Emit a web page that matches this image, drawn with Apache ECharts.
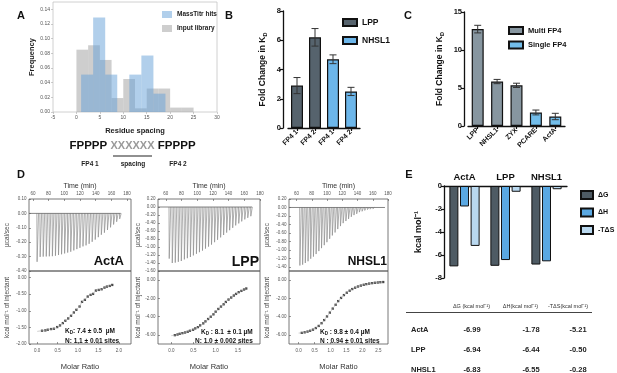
<!DOCTYPE html>
<html>
<head>
<meta charset="utf-8">
<script src="https://cdn.jsdelivr.net/npm/echarts@6/dist/echarts.min.js"></script>
<style>html,body{margin:0;padding:0;background:#fff}#chart{width:617px;height:373px}</style>
</head>
<body>
<div id="chart"></div>
<script>
const FONT = '"Liberation Sans", Arial, Helvetica, sans-serif';

// A - histogram of residue spacing
const hitsBinStart = [1, 3.57, 6.14, 8.71, 11.29, 13.86, 16.43];
const hitsBinEnd   = [3.57, 6.14, 8.71, 11.29, 13.86, 16.43, 19];
const hitsFreq     = [0.051, 0.129, 0.051, 0, 0.051, 0.077, 0.025];
const libBinStart  = [0, 2.5, 5, 7.5, 10, 12.5, 15, 17.5, 20, 22.5];
const libBinEnd    = [2.5, 5, 7.5, 10, 12.5, 15, 17.5, 20, 22.5, 25];
const libFreq      = [0.085, 0.091, 0.071, 0.019, 0.045, 0.005, 0.032, 0.032, 0.006, 0.006];
const aYTicks = [0, 0.02, 0.04, 0.06, 0.08, 0.10, 0.12, 0.14];

// B - fold change, FP4 sites
const bCats  = ['FP4 1', 'FP4 2', 'FP4 1', 'FP4 2'];
const bLpp   = [2.9, 6.2, null, null];
const bNhsl1 = [null, null, 4.7, 2.5];
const bErr   = [0.55, 0.6, 0.3, 0.28];

// C - fold change, multi vs single
const cCats   = ['LPP', 'NHSL1', 'ZYX', 'PCARE', 'ActA'];
const cMulti  = [12.75, 5.85, 5.35, null, null];
const cSingle = [null, null, null, 1.78, 1.25];
const cErr    = [0.5, 0.28, 0.28, 0.32, 0.42];

// D - ITC thermograms (injection time, peak ucal/sec)
const actaTimes = [65.0, 68.9, 72.8, 76.7, 80.6, 84.5, 88.4, 92.3, 96.2, 100.1, 104.0, 107.9, 111.8, 115.7,
  119.6, 123.5, 127.4, 131.3, 135.2, 139.1, 143.0, 146.9, 150.8, 154.7, 158.6, 162.5, 166.4, 170.3];
const actaPeaks = [-0.336, -0.302, -0.300, -0.299, -0.298, -0.297, -0.294, -0.289, -0.284, -0.278, -0.272, -0.266, -0.257, -0.248,
  -0.239, -0.229, -0.222, -0.211, -0.197, -0.182, -0.165, -0.148, -0.134, -0.115, -0.097, -0.077, -0.058, -0.038];
const lppTimes = [64.0, 67.9, 71.7, 75.6, 79.4, 83.3, 87.1, 91.0, 94.8, 98.7, 102.5, 106.4, 110.2, 114.1,
  117.9, 121.8, 125.6, 129.5, 133.3, 137.2, 141.0, 144.9, 148.7, 152.6, 156.4, 160.3, 164.1, 168.0];
const lppPeaks = [-1.29, -1.40, -1.39, -1.37, -1.35, -1.31, -1.28, -1.25, -1.21, -1.17, -1.13, -1.09, -1.04, -0.99,
  -0.94, -0.88, -0.82, -0.76, -0.70, -0.64, -0.58, -0.52, -0.46, -0.41, -0.36, -0.31, -0.27, -0.23];
const nhslTimes = [64.0, 67.6, 71.1, 74.7, 78.2, 81.8, 85.3, 88.9, 92.4, 96.0, 99.5, 103.1, 106.6, 110.2,
  113.7, 117.3, 120.8, 124.4, 127.9, 131.5, 135.0, 138.6, 142.1, 145.7, 149.2, 152.8, 156.3, 159.9];
const nhslPeaks = [-1.37, -1.35, -1.31, -1.27, -1.21, -1.16, -1.10, -1.03, -0.96, -0.89, -0.82, -0.74, -0.66, -0.59,
  -0.51, -0.44, -0.37, -0.32, -0.27, -0.22, -0.18, -0.15, -0.11, -0.09, -0.07, -0.05, -0.04, -0.03];
const actaBase = [[55, 0], [172, 0]];
const lppBase  = [[50, 0], [170, 0]];
const nhslBase = [[50, 0], [176, 0]];

// D - binding isotherms (molar ratio, kcal/mol of injectant)
const actaDots = [[0.12,-1.60],[0.20,-1.59],[0.26,-1.57],[0.34,-1.55],[0.41,-1.54],[0.49,-1.49],[0.56,-1.44],
  [0.63,-1.37],[0.69,-1.30],[0.76,-1.23],[0.83,-1.15],[0.90,-1.05],[0.96,-0.97],[1.04,-0.87],[1.10,-0.73],
  [1.17,-0.67],[1.24,-0.57],[1.31,-0.52],[1.37,-0.49],[1.44,-0.39],[1.51,-0.37],[1.58,-0.35],[1.65,-0.30],
  [1.71,-0.27],[1.78,-0.25],[1.84,-0.22]];
const lppDots = [[0.08,-6.03],[0.14,-5.96],[0.19,-5.88],[0.25,-5.81],[0.31,-5.74],[0.37,-5.66],[0.42,-5.55],
  [0.49,-5.44],[0.54,-5.29],[0.60,-5.15],[0.65,-4.96],[0.72,-4.74],[0.77,-4.52],[0.83,-4.26],[0.89,-4.01],
  [0.95,-3.75],[1.00,-3.46],[1.06,-3.16],[1.12,-2.90],[1.18,-2.65],[1.23,-2.39],[1.29,-2.13],[1.35,-1.91],
  [1.41,-1.69],[1.46,-1.51],[1.52,-1.32],[1.58,-1.18],[1.64,-1.03],[1.69,-0.92]];
const nhslDots = [[0.10,-5.78],[0.19,-5.72],[0.28,-5.64],[0.36,-5.55],[0.45,-5.43],[0.54,-5.25],[0.63,-5.02],
  [0.72,-4.72],[0.80,-4.38],[0.89,-3.98],[0.98,-3.56],[1.07,-3.12],[1.16,-2.70],[1.24,-2.30],[1.33,-1.95],
  [1.42,-1.64],[1.51,-1.38],[1.60,-1.16],[1.68,-0.98],[1.77,-0.83],[1.86,-0.70],[1.95,-0.60],[2.04,-0.51],
  [2.12,-0.44],[2.21,-0.38],[2.30,-0.33],[2.39,-0.29],[2.48,-0.26],[2.56,-0.23],[2.65,-0.21]];
const actaFitStart = [0.0, -1.62];
const lppFitStart  = [0.0, -6.08];
const nhslFitStart = [0.0, -5.80];

// D - tick values
const actaTimeTicks = [60, 80, 100, 120, 140, 160, 180];
const timeTicks     = [60, 80, 100, 120, 140, 160, 180];
const actaUpTicks = [0.1, 0, -0.1, -0.2, -0.3, -0.4];
const lppUpTicks  = [0.2, 0, -0.2, -0.4, -0.6, -0.8, -1.0, -1.2, -1.4, -1.6];
const nhslUpTicks = [0.2, 0, -0.2, -0.4, -0.6, -0.8, -1.0, -1.2, -1.4];
const actaLowTicks = [0, -0.5, -1.0, -1.5, -2.0];
const kcalLowTicks = [0, -2, -4, -6];
const actaMolTicks = [0, 0.5, 1.0, 1.5, 2.0];
const lppMolTicks  = [0, 0.5, 1.0, 1.5];
const nhslMolTicks = [0, 0.5, 1.0, 1.5, 2.0, 2.5];

// E - thermodynamics
const eCats = ['ActA', 'LPP', 'NHSL1'];
const eDG  = [-6.99, -6.94, -6.83];
const eDH  = [-1.78, -6.44, -6.55];
const eTDS = [-5.21, -0.50, -0.28];

const chart = echarts.init(document.getElementById('chart'), null, {renderer: 'canvas'});

function binItem(color) {
  return function (params, api) {
    const p0 = api.coord([api.value(0), api.value(2)]);
    const p1 = api.coord([api.value(1), 0]);
    return {type: 'rect', shape: {x: p0[0], y: p0[1], width: p1[0] - p0[0], height: p1[1] - p0[1]},
      style: {fill: color}};
  };
}

function errItem(params, api) {
  const i = api.value(0), v = api.value(1), e = api.value(2);
  const hi = api.coord([i, v + e]), lo = api.coord([i, v - e]);
  const w = 3.5, st = {stroke: '#333', lineWidth: 1};
  return {type: 'group', children: [
    {type: 'line', shape: {x1: hi[0], y1: hi[1], x2: lo[0], y2: lo[1]}, style: st},
    {type: 'line', shape: {x1: hi[0] - w, y1: hi[1], x2: hi[0] + w, y2: hi[1]}, style: st},
    {type: 'line', shape: {x1: lo[0] - w, y1: lo[1], x2: lo[0] + w, y2: lo[1]}, style: st}
  ]};
}

function spikeItem(params, api) {
  const t = api.value(0), p = api.value(1);
  const a = api.coord([t, 0]), b = api.coord([t + 0.3, p]), c = api.coord([t + 2.2, 0]);
  return {type: 'polyline', shape: {points: [a, b, c]}, style: {stroke: '#8c8c8c', lineWidth: 0.7, fill: null}};
}

const lblBold = (size) => ({fontSize: size, fontWeight: 'bold', color: '#111'});
const subName = (text, size) => ({
  name: '{a|' + text + '}{b|D}',
  nameTextStyle: {rich: {
    a: {fontSize: size, fontWeight: 'bold', color: '#111', lineHeight: size + 3},
    b: {fontSize: size * 0.65, fontWeight: 'bold', color: '#111', verticalAlign: 'bottom', lineHeight: size * 0.7}
  }}
});

function frameGrid(left, top, width, height) {
  return {left, top, width, height, show: true, borderColor: '#555', borderWidth: 0.8, backgroundColor: 'transparent'};
}

const noLine = {show: false, onZero: false};
const itcTick = (ticks) => ({inside: true, length: 2, lineStyle: {color: '#555', width: 0.6}, customValues: ticks});

function timeAxis(g, min, max, ticks) {
  return {type: 'value', gridIndex: g, position: 'top', min, max,
    name: 'Time (min)', nameLocation: 'middle', nameGap: 9.5,
    nameTextStyle: {fontSize: 7, color: '#333'},
    axisLine: noLine, axisTick: itcTick(ticks),
    axisLabel: {fontSize: 4.5, color: '#555', margin: 2.5, customValues: ticks},
    splitLine: {show: false}};
}
function molAxis(g, min, max, ticks) {
  return {type: 'value', gridIndex: g, min, max,
    name: 'Molar Ratio', nameLocation: 'middle', nameGap: 19,
    nameTextStyle: {fontSize: 7.5, color: '#333'},
    axisLine: noLine, axisTick: itcTick(ticks),
    axisLabel: {fontSize: 4.5, color: '#555', margin: 4, customValues: ticks, formatter: v => v.toFixed(1)},
    splitLine: {show: false}};
}
function itcYAxis(g, min, max, ticks, name, gap) {
  return {type: 'value', gridIndex: g, min, max,
    name, nameLocation: 'middle', nameGap: gap,
    nameTextStyle: {fontSize: 6.5, color: '#444'},
    axisLine: noLine, axisTick: itcTick(ticks),
    axisLabel: {fontSize: 4.5, color: '#555', margin: 2.5, customValues: ticks, formatter: v => v.toFixed(2)},
    splitLine: {show: false}};
}

const bMean = bLpp.map((v, i) => v != null ? v : bNhsl1[i]);
const cMean = cMulti.map((v, i) => v != null ? v : cSingle[i]);

const blackAxis = {show: true, onZero: false, lineStyle: {color: '#111', width: 1.3}};
const blackTick = {show: true, length: 3, lineStyle: {color: '#111', width: 1.2}};

function txt(x, y, text, size, extra) {
  return Object.assign({type: 'text', x, y, silent: true,
    style: Object.assign({text, fontSize: size, fontFamily: FONT, fill: '#111', align: 'center', verticalAlign: 'middle'}, extra || {})});
}
function kdText(x, y, rest, align) {
  const f = {fontFamily: FONT, fontWeight: 'bold', fill: '#111'};
  return {type: 'text', x, y, silent: true, style: {
    text: '{b|K}{s|D}{b|' + rest + '}', align: align || 'left', verticalAlign: 'middle',
    rich: {b: Object.assign({fontSize: 6.5, lineHeight: 8}, f), s: Object.assign({fontSize: 4.5, lineHeight: 5, verticalAlign: 'bottom'}, f)}}};
}

const tableRows = [];
eCats.forEach((c, i) => {
  const y = 329.5 + i * 20;
  tableRows.push(txt(411, y, c, 7.5, {align: 'left', fontWeight: 'bold', fill: '#222'}));
  tableRows.push(txt(472, y, eDG[i].toFixed(2), 7.5, {fontWeight: 'bold', fill: '#222'}));
  tableRows.push(txt(531, y, eDH[i].toFixed(2), 7.5, {fontWeight: 'bold', fill: '#222'}));
  tableRows.push(txt(578, y, eTDS[i].toFixed(2), 7.5, {fontWeight: 'bold', fill: '#222'}));
});

const libColor = 'rgba(165,165,165,0.55)';
const hitsColor = 'rgba(100,160,215,0.5)';

const option = {
  animation: false,
  backgroundColor: '#fff',
  textStyle: {fontFamily: FONT},
  grid: [
    {left: 53, top: 2, width: 164, height: 110, show: true, borderColor: '#c4c4c4', borderWidth: 0.8},
    {left: 288, top: 11, width: 72, height: 117},
    {left: 468, top: 12, width: 97, height: 114},
    frameGrid(29, 199, 102, 72),
    frameGrid(29, 271, 102, 73),
    frameGrid(158, 199, 102, 72),
    frameGrid(158, 271, 102, 73),
    frameGrid(289, 199, 99, 72),
    frameGrid(289, 271, 99, 73),
    {left: 444, top: 186, width: 123, height: 92}
  ],
  xAxis: [
    {type: 'value', gridIndex: 0, min: -5, max: 30, interval: 5,
      name: 'Residue spacing', nameLocation: 'middle', nameGap: 15,
      nameTextStyle: {fontSize: 7.5, fontWeight: 'bold', color: '#222'},
      axisLine: noLine, axisTick: {show: true, length: 2, lineStyle: {color: '#aaa', width: 0.6}},
      axisLabel: {fontSize: 5, color: '#555', margin: 3}, splitLine: {show: false}},
    {type: 'category', gridIndex: 1, data: ['0', '1', '2', '3'],
      axisLine: blackAxis, axisTick: Object.assign({alignWithLabel: true}, blackTick),
      axisLabel: Object.assign({rotate: 45, margin: 3, formatter: (v, i) => bCats[i]}, lblBold(7))},
    {type: 'category', gridIndex: 2, data: cCats,
      axisLine: blackAxis, axisTick: Object.assign({alignWithLabel: true}, blackTick),
      axisLabel: Object.assign({rotate: 45, margin: 3}, lblBold(7))},
    timeAxis(3, 55, 185, actaTimeTicks),
    molAxis(4, -0.2, 2.3, actaMolTicks),
    timeAxis(5, 50, 180, timeTicks),
    molAxis(6, -0.3, 2.0, lppMolTicks),
    timeAxis(7, 50, 180, timeTicks),
    molAxis(8, -0.3, 2.8, nhslMolTicks),
    {type: 'category', gridIndex: 9, data: eCats, position: 'top',
      axisLine: blackAxis, axisTick: {show: false},
      axisLabel: Object.assign({margin: 4}, lblBold(9.5))}
  ],
  yAxis: [
    {type: 'value', gridIndex: 0, min: 0, max: 0.15,
      name: 'Frequency', nameLocation: 'middle', nameGap: 17.5,
      nameTextStyle: {fontSize: 7.5, fontWeight: 'bold', color: '#222'},
      axisLine: noLine,
      axisTick: {show: true, length: 2, lineStyle: {color: '#aaa', width: 0.6}, customValues: aYTicks},
      axisLabel: {fontSize: 5, color: '#555', margin: 3, customValues: aYTicks, formatter: v => v.toFixed(2)},
      splitLine: {show: false}},
    Object.assign({type: 'value', gridIndex: 1, min: 0, max: 8, interval: 2, offset: 5,
      nameLocation: 'middle', nameGap: 15,
      axisLine: blackAxis, axisTick: blackTick, axisLabel: Object.assign({margin: 2}, lblBold(7.5)),
      splitLine: {show: false}}, subName('Fold Change in K', 8.5)),
    Object.assign({type: 'value', gridIndex: 2, min: 0, max: 15, interval: 5, offset: 4,
      nameLocation: 'middle', nameGap: 19,
      axisLine: blackAxis, axisTick: blackTick, axisLabel: Object.assign({margin: 2}, lblBold(7.5)),
      splitLine: {show: false}}, subName('Fold Change in K', 8.5)),
    itcYAxis(3, -0.4, 0.1, actaUpTicks, 'µcal/sec', 18),
    itcYAxis(4, -2.0, 0.2, actaLowTicks, 'kcal mol⁻¹ of injectant', 18),
    itcYAxis(5, -1.6, 0.2, lppUpTicks, 'µcal/sec', 13),
    itcYAxis(6, -7, 1, kcalLowTicks, 'kcal mol⁻¹ of injectant', 13),
    itcYAxis(7, -1.5, 0.2, nhslUpTicks, 'µcal/sec', 18),
    itcYAxis(8, -7, 1, kcalLowTicks, 'kcal mol⁻¹ of injectant', 18),
    {type: 'value', gridIndex: 9, min: -8, max: 0, interval: 2,
      name: 'kcal mol⁻¹', nameLocation: 'middle', nameGap: 21,
      nameTextStyle: {fontSize: 9, fontWeight: 'bold', color: '#111'},
      axisLine: blackAxis, axisTick: blackTick, axisLabel: Object.assign({margin: 2}, lblBold(7.5)),
      splitLine: {show: false}}
  ],
  legend: [
    {data: ['MassTitr hits', 'Input library'], left: 157, top: 6, orient: 'vertical', icon: 'rect',
      itemWidth: 10, itemHeight: 7, itemGap: 7, selectedMode: false,
      textStyle: {fontSize: 6.5, fontWeight: 'bold', color: '#222'}},
    {data: ['LPP', 'NHSL1'], left: 337, top: 13, orient: 'vertical', icon: 'rect',
      itemWidth: 14, itemHeight: 7, itemGap: 9, selectedMode: false,
      textStyle: {fontSize: 8.5, fontWeight: 'bold', color: '#111'}},
    {data: ['Multi FP4', 'Single FP4'], left: 503, top: 21, orient: 'vertical', icon: 'rect',
      itemWidth: 14, itemHeight: 7, itemGap: 5.5, selectedMode: false,
      textStyle: {fontSize: 7.5, fontWeight: 'bold', color: '#111'}},
    {data: ['ΔG', 'ΔH', '-TΔS'], left: 575, top: 185, orient: 'vertical', icon: 'rect',
      itemWidth: 12, itemHeight: 8, itemGap: 7.5, selectedMode: false,
      textStyle: {fontSize: 7, fontWeight: 'bold', color: '#111'}}
  ],
  series: [
    // A
    {name: 'Input library', type: 'custom', xAxisIndex: 0, yAxisIndex: 0, encode: {x: [0, 1], y: 2},
      itemStyle: {color: libColor}, renderItem: binItem(libColor),
      data: libBinStart.map((s, i) => [s, libBinEnd[i], libFreq[i]])},
    {name: 'MassTitr hits', type: 'custom', xAxisIndex: 0, yAxisIndex: 0, encode: {x: [0, 1], y: 2},
      itemStyle: {color: hitsColor}, renderItem: binItem(hitsColor),
      data: hitsBinStart.map((s, i) => [s, hitsBinEnd[i], hitsFreq[i]])},
    // B
    {name: 'LPP', type: 'bar', xAxisIndex: 1, yAxisIndex: 1, data: bLpp, barWidth: 12, barGap: '-100%',
      itemStyle: {color: '#56636d', borderColor: '#111', borderWidth: 1.2}},
    {name: 'NHSL1', type: 'bar', xAxisIndex: 1, yAxisIndex: 1, data: bNhsl1, barWidth: 12, barGap: '-100%',
      itemStyle: {color: '#6cb6ea', borderColor: '#111', borderWidth: 1.2}},
    {type: 'custom', xAxisIndex: 1, yAxisIndex: 1, z: 5, renderItem: errItem,
      data: bMean.map((v, i) => [i, v, bErr[i]])},
    // C
    {name: 'Multi FP4', type: 'bar', xAxisIndex: 2, yAxisIndex: 2, data: cMulti, barWidth: 12, barGap: '-100%',
      itemStyle: {color: '#8796a0', borderColor: '#111', borderWidth: 1.2}},
    {name: 'Single FP4', type: 'bar', xAxisIndex: 2, yAxisIndex: 2, data: cSingle, barWidth: 12, barGap: '-100%',
      itemStyle: {color: '#72bdea', borderColor: '#111', borderWidth: 1.2}},
    {type: 'custom', xAxisIndex: 2, yAxisIndex: 2, z: 5, renderItem: errItem,
      data: cMean.map((v, i) => [i, v, cErr[i]])},
    // D thermograms
    {type: 'line', xAxisIndex: 3, yAxisIndex: 3, data: actaBase, symbol: 'none', lineStyle: {color: '#666', width: 0.8}},
    {type: 'custom', xAxisIndex: 3, yAxisIndex: 3, renderItem: spikeItem, encode: {x: 0, y: 1},
      data: actaTimes.map((t, i) => [t, actaPeaks[i]])},
    {type: 'line', xAxisIndex: 5, yAxisIndex: 5, data: lppBase, symbol: 'none', lineStyle: {color: '#666', width: 0.8}},
    {type: 'custom', xAxisIndex: 5, yAxisIndex: 5, renderItem: spikeItem, encode: {x: 0, y: 1},
      data: lppTimes.map((t, i) => [t, lppPeaks[i]])},
    {type: 'line', xAxisIndex: 7, yAxisIndex: 7, data: nhslBase, symbol: 'none', lineStyle: {color: '#666', width: 0.8}},
    {type: 'custom', xAxisIndex: 7, yAxisIndex: 7, renderItem: spikeItem, encode: {x: 0, y: 1},
      data: nhslTimes.map((t, i) => [t, nhslPeaks[i]])},
    // D isotherms
    {type: 'line', xAxisIndex: 4, yAxisIndex: 4, data: [actaFitStart].concat(actaDots), smooth: 0.4, symbol: 'none',
      lineStyle: {color: '#aaa', width: 0.6}},
    {type: 'scatter', xAxisIndex: 4, yAxisIndex: 4, data: actaDots, symbol: 'rect', symbolSize: 2.3, itemStyle: {color: '#111'}},
    {type: 'line', xAxisIndex: 6, yAxisIndex: 6, data: [lppFitStart].concat(lppDots), smooth: 0.4, symbol: 'none',
      lineStyle: {color: '#aaa', width: 0.6}},
    {type: 'scatter', xAxisIndex: 6, yAxisIndex: 6, data: lppDots, symbol: 'rect', symbolSize: 2.3, itemStyle: {color: '#111'}},
    {type: 'line', xAxisIndex: 8, yAxisIndex: 8, data: [nhslFitStart].concat(nhslDots), smooth: 0.4, symbol: 'none',
      lineStyle: {color: '#aaa', width: 0.6}},
    {type: 'scatter', xAxisIndex: 8, yAxisIndex: 8, data: nhslDots, symbol: 'rect', symbolSize: 2.3, itemStyle: {color: '#111'}},
    // E
    {name: 'ΔG', type: 'bar', xAxisIndex: 9, yAxisIndex: 9, data: eDG, barWidth: 9, barGap: '18%',
      itemStyle: {color: '#4e5b64', borderColor: '#111', borderWidth: 1}},
    {name: 'ΔH', type: 'bar', xAxisIndex: 9, yAxisIndex: 9, data: eDH, barWidth: 9, barGap: '18%',
      itemStyle: {color: '#5aa8e2', borderColor: '#111', borderWidth: 1}},
    {name: '-TΔS', type: 'bar', xAxisIndex: 9, yAxisIndex: 9, data: eTDS, barWidth: 9, barGap: '18%',
      itemStyle: {color: '#b9d8ef', borderColor: '#111', borderWidth: 1}}
  ],
  graphic: [
    txt(21, 15.5, 'A', 11, {fontWeight: 'bold'}),
    txt(229, 15.5, 'B', 11, {fontWeight: 'bold'}),
    txt(408, 15.5, 'C', 11, {fontWeight: 'bold'}),
    txt(21, 175, 'D', 11, {fontWeight: 'bold'}),
    txt(409, 175, 'E', 11, {fontWeight: 'bold'}),
    {type: 'text', x: 132.5, y: 146, silent: true, style: {
      text: '{f|FPPPP} {x|XXXXXX} {f|FPPPP}', align: 'center', verticalAlign: 'middle',
      rich: {f: {fontSize: 11.5, fontWeight: 'bold', fill: '#111', fontFamily: FONT},
             x: {fontSize: 11, fontWeight: 'bold', fill: '#9a9a9a', fontFamily: FONT}}}},
    {type: 'line', silent: true, shape: {x1: 113, y1: 156, x2: 152, y2: 156}, style: {stroke: '#222', lineWidth: 1.2}},
    txt(90, 164.5, 'FP4 1', 6.5, {fontWeight: 'bold', fill: '#222'}),
    txt(133, 164.5, 'spacing', 6.5, {fontWeight: 'bold', fill: '#222'}),
    txt(178, 164.5, 'FP4 2', 6.5, {fontWeight: 'bold', fill: '#222'}),
    // D labels
    txt(124, 261, 'ActA', 13, {fontWeight: 'bold', align: 'right'}),
    txt(259, 262, 'LPP', 14, {fontWeight: 'bold', align: 'right'}),
    txt(387, 262, 'NHSL1', 12, {fontWeight: 'bold', align: 'right'}),
    kdText(65, 331.5, ': 7.4 ± 0.5  µM'),
    txt(65, 341.5, 'N: 1.1 ± 0.01 sites', 6.5, {fontWeight: 'bold', align: 'left'}),
    kdText(201, 332, ' : 8.1  ± 0.1 µM'),
    txt(195, 341, 'N: 1.0 ± 0.002 sites', 6.5, {fontWeight: 'bold', align: 'left'}),
    kdText(320, 332.5, ' : 9.8 ± 0.4 µM'),
    txt(320, 341.5, 'N : 0.94 ± 0.01 sites', 6.5, {fontWeight: 'bold', align: 'left'}),
    // E table
    txt(471.5, 306, 'ΔG (kcal mol⁻¹)', 5.5, {fill: '#333'}),
    txt(520.5, 306, 'ΔH(kcal mol⁻¹)', 5.5, {fill: '#333'}),
    txt(568, 306, '-TΔS(kcal mol⁻¹)', 5.5, {fill: '#333'}),
    {type: 'line', silent: true, shape: {x1: 406, y1: 312.5, x2: 592, y2: 312.5}, style: {stroke: '#444', lineWidth: 1}}
  ].concat(tableRows)
};

chart.setOption(option);
</script>
</body>
</html>
